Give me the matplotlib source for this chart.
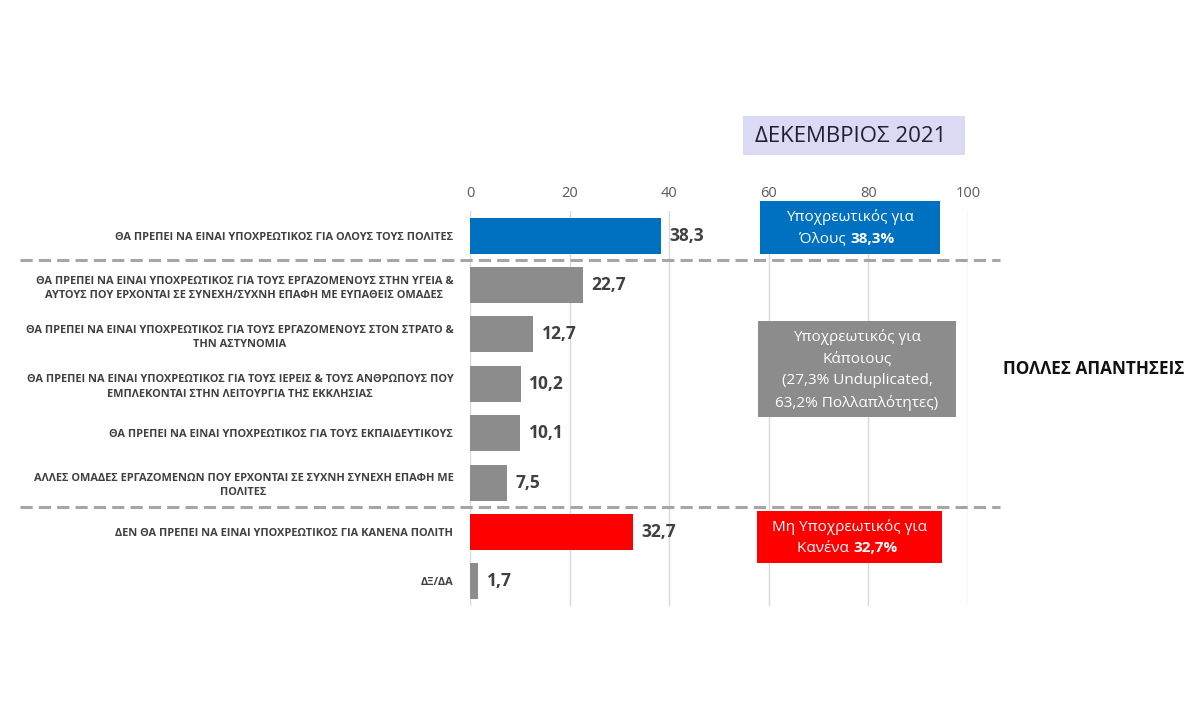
import matplotlib.pyplot as plt
from matplotlib.patches import Rectangle

plt.rcParams['font.family'] = ['Open Sans', 'DejaVu Sans']

# data
categories = [
    "ΘΑ ΠΡΕΠΕΙ ΝΑ ΕΙΝΑΙ ΥΠΟΧΡΕΩΤΙΚΟΣ ΓΙΑ ΟΛΟΥΣ ΤΟΥΣ ΠΟΛΙΤΕΣ",
    "ΘΑ ΠΡΕΠΕΙ ΝΑ ΕΙΝΑΙ ΥΠΟΧΡΕΩΤΙΚΟΣ ΓΙΑ ΤΟΥΣ ΕΡΓΑΖΟΜΕΝΟΥΣ ΣΤΗΝ ΥΓΕΙΑ &\nΑΥΤΟΥΣ ΠΟΥ ΕΡΧΟΝΤΑΙ ΣΕ ΣΥΝΕΧΗ/ΣΥΧΝΗ ΕΠΑΦΗ ΜΕ ΕΥΠΑΘΕΙΣ ΟΜΑΔΕΣ",
    "ΘΑ ΠΡΕΠΕΙ ΝΑ ΕΙΝΑΙ ΥΠΟΧΡΕΩΤΙΚΟΣ ΓΙΑ ΤΟΥΣ ΕΡΓΑΖΟΜΕΝΟΥΣ ΣΤΟΝ ΣΤΡΑΤΟ &\nΤΗΝ ΑΣΤΥΝΟΜΙΑ",
    "ΘΑ ΠΡΕΠΕΙ ΝΑ ΕΙΝΑΙ ΥΠΟΧΡΕΩΤΙΚΟΣ ΓΙΑ ΤΟΥΣ ΙΕΡΕΙΣ & ΤΟΥΣ ΑΝΘΡΩΠΟΥΣ ΠΟΥ\nΕΜΠΛΕΚΟΝΤΑΙ ΣΤΗΝ ΛΕΙΤΟΥΡΓΙΑ ΤΗΣ ΕΚΚΛΗΣΙΑΣ",
    "ΘΑ ΠΡΕΠΕΙ ΝΑ ΕΙΝΑΙ ΥΠΟΧΡΕΩΤΙΚΟΣ ΓΙΑ ΤΟΥΣ ΕΚΠΑΙΔΕΥΤΙΚΟΥΣ",
    "ΑΛΛΕΣ ΟΜΑΔΕΣ ΕΡΓΑΖΟΜΕΝΩΝ ΠΟΥ ΕΡΧΟΝΤΑΙ ΣΕ ΣΥΧΝΗ ΣΥΝΕΧΗ ΕΠΑΦΗ ΜΕ\nΠΟΛΙΤΕΣ",
    "ΔΕΝ ΘΑ ΠΡΕΠΕΙ ΝΑ ΕΙΝΑΙ ΥΠΟΧΡΕΩΤΙΚΟΣ ΓΙΑ ΚΑΝΕΝΑ ΠΟΛΙΤΗ",
    "ΔΞ/ΔΑ",
]
values = [38.3, 22.7, 12.7, 10.2, 10.1, 7.5, 32.7, 1.7]
bar_colors = ['#0070C0', '#8C8C8C', '#8C8C8C', '#8C8C8C', '#8C8C8C', '#8C8C8C', '#FF0000', '#8C8C8C']
ticks = [0, 20, 40, 60, 80, 100]

fig = plt.figure(figsize=(12, 7.18), dpi=100)
ax = fig.add_axes([470/1200, 1 - 606/718, 498/1200, 395/718])

y = list(range(len(values)))
ax.barh(y, values, height=0.73, color=bar_colors, zorder=3)
ax.set_xlim(0, 100)
ax.set_ylim(len(values) - 0.5, -0.5)

ax.xaxis.tick_top()
ax.set_xticks(ticks)
ax.tick_params(axis='x', length=0, labelsize=10.5, labelcolor='#595959', pad=7)
ax.set_yticks(y)
ax.set_yticklabels(categories, fontsize=7.9, fontweight='bold', color='#404040',
                   multialignment='center', linespacing=1.4)
ax.tick_params(axis='y', length=0, pad=12)
ax.grid(axis='x', color='#D9D9D9', lw=1, zorder=0)
for s in ax.spines.values():
    s.set_visible(False)

# value labels
for yi, v in zip(y, values):
    ax.text(v + 1.7, yi, f"{v:.1f}".replace('.', ','), va='center', ha='left',
            fontsize=12.5, fontweight='bold', color='#404040')

# dashed separators
for ys in [0.5, 5.5]:
    ax.plot([-0.904, 1.064], [ys, ys], transform=ax.get_yaxis_transform(),
            color='#A6A6A6', lw=2.2, ls=(0, (4, 2)), clip_on=False, zorder=4)

# annotation boxes (figure pixel layout)
def fig_box(x0, y0, x1, y1, color):
    fig.patches.append(Rectangle((x0/1200, 1 - y1/718), (x1 - x0)/1200, (y1 - y0)/718,
                                 transform=fig.transFigure, facecolor=color,
                                 edgecolor='none', zorder=5))

fig_box(743, 116, 965, 155, '#DADAF4')
fig.text(851/1200, 1 - 136/718, "ΔΕΚΕΜΒΡΙΟΣ 2021", ha='center', va='center',
         fontsize=16, color='#1F1F3A', zorder=6)

fig_box(760, 201, 940, 254, '#0070C0')
fig.text(850/1200, 1 - 217/718, "Υποχρεωτικός για", ha='center', va='center',
         fontsize=11, color='white', zorder=6)
fig.text(850/1200, 1 - 239/718, "Όλους ", ha='right', va='center',
         fontsize=11, color='white', zorder=6)
fig.text(850/1200, 1 - 239/718, "38,3%", ha='left', va='center',
         fontsize=11, color='white', fontweight='bold', zorder=6)

fig_box(758, 321, 956, 417, '#8C8C8C')
fig.text(857/1200, 1 - 370/718,
         "Υποχρεωτικός για\nΚάποιους\n(27,3% Unduplicated,\n63,2% Πολλαπλότητες)",
         ha='center', va='center', fontsize=11, color='white', linespacing=1.58, zorder=6)

fig_box(757, 511, 942, 563, '#FF0000')
fig.text(849/1200, 1 - 527/718, "Μη Υποχρεωτικός για", ha='center', va='center',
         fontsize=11, color='white', zorder=6)
fig.text(853/1200, 1 - 548/718, "Κανένα ", ha='right', va='center',
         fontsize=11, color='white', zorder=6)
fig.text(853/1200, 1 - 548/718, "32,7%", ha='left', va='center',
         fontsize=11, color='white', fontweight='bold', zorder=6)

fig.text(1094/1200, 1 - 369/718, "ΠΟΛΛΕΣ ΑΠΑΝΤΗΣΕΙΣ", ha='center', va='center',
         fontsize=12.3, fontweight='bold', color='#111111')

fig.savefig('out.png', dpi=100, facecolor='white')
